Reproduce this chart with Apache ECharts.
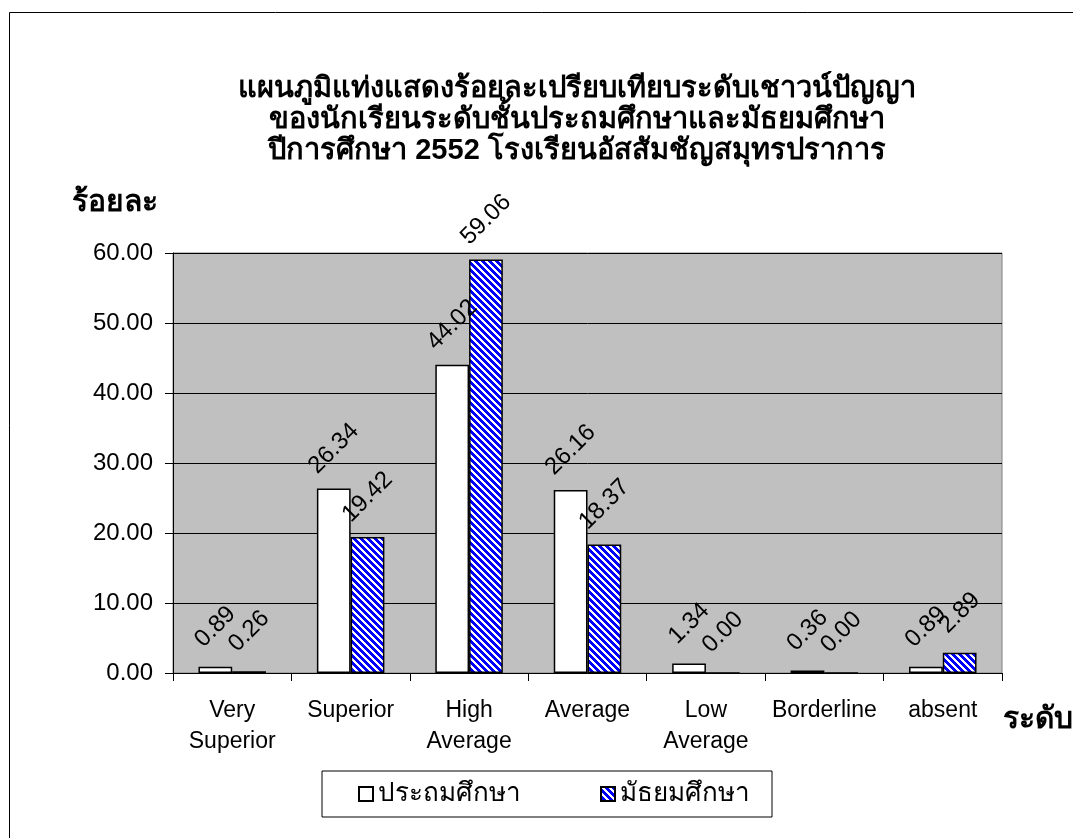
<!DOCTYPE html>
<html>
<head>
<meta charset="utf-8">
<script src="https://cdn.jsdelivr.net/npm/echarts@6/dist/echarts.min.js"></script>
<style>
html,body{margin:0;padding:0;background:#fff;}
#c{width:1073px;height:838px;}
</style>
</head>
<body>
<div id="c"></div>
<script>
const categories = ['Very\nSuperior', 'Superior', 'High\nAverage', 'Average', 'Low\nAverage', 'Borderline', 'absent'];
const primaryValues = [0.89, 26.34, 44.02, 26.16, 1.34, 0.36, 0.89];
const secondaryValues = [0.26, 19.42, 59.06, 18.37, 0.00, 0.00, 2.89];
const seriesNames = ['ประถมศึกษา', 'มัธยมศึกษา'];
const titleText = 'แผนภูมิแท่งแสดงร้อยละเปรียบเทียบระดับเชาวน์ปัญญา\nของนักเรียนระดับชั้นประถมศึกษาและมัธยมศึกษา\nปีการศึกษา 2552 โรงเรียนอัสสัมชัญสมุทรปราการ';
const yAxisName = 'ร้อยละ';
const xAxisName = 'ระดับ';

const FONT = '"Liberation Sans", Arial, sans-serif';

// stripe pattern: blue with white diagonal stripes
function makePattern() {
  const n = 7;
  const cv = document.createElement('canvas');
  cv.width = n; cv.height = n;
  const ctx = cv.getContext('2d');
  const img = ctx.createImageData(n, n);
  for (let y = 0; y < n; y++) {
    for (let x = 0; x < n; x++) {
      const i = (y * n + x) * 4;
      const white = ((x - y + n * 4) % n) < 3;
      img.data[i] = white ? 255 : 0;
      img.data[i + 1] = white ? 255 : 0;
      img.data[i + 2] = 255;
      img.data[i + 3] = 255;
    }
  }
  ctx.putImageData(img, 0, 0);
  return cv;
}
const pattern = { image: makePattern(), repeat: 'repeat' };

const labelCfg = {
  show: true,
  position: 'top',
  distance: 40,
  rotate: 45,
  align: 'center',
  verticalAlign: 'middle',
  fontFamily: FONT,
  fontSize: 24,
  color: '#000',
  formatter: p => p.value.toFixed(2)
};

const chart = echarts.init(document.getElementById('c'), null, { renderer: 'canvas' });
chart.setOption({
  backgroundColor: '#fff',
  animation: false,
  title: {
    text: titleText,
    left: 572,
    textAlign: 'center',
    top: 68,
    textStyle: { fontFamily: FONT, fontWeight: 'bold', fontSize: 29, lineHeight: 31, color: '#000' }
  },
  grid: {
    left: 173, right: 71, top: 253, bottom: 165,
    show: true, backgroundColor: '#C0C0C0', borderColor: '#808080', borderWidth: 1
  },
  legend: {
    left: 322, top: 771,
    itemWidth: 14, itemHeight: 14, itemGap: 79,
    padding: [10, 22, 10, 36],
    borderColor: '#000', borderWidth: 1,
    icon: 'rect',
    textStyle: { fontFamily: FONT, fontSize: 26, color: '#000' },
    data: seriesNames
  },
  xAxis: {
    type: 'category',
    data: categories,
    axisLine: { show: true, lineStyle: { color: '#000', width: 1 } },
    axisTick: { show: true, length: 8, lineStyle: { color: '#000' } },
    axisLabel: { margin: 22, fontFamily: FONT, fontSize: 23, lineHeight: 31, color: '#000', interval: 0 },
    splitLine: { show: false }
  },
  yAxis: {
    type: 'value',
    min: 0, max: 60, interval: 10,
    axisLine: { show: true, lineStyle: { color: '#000', width: 1 } },
    axisTick: { show: true, length: 8, lineStyle: { color: '#000' } },
    axisLabel: { margin: 20, fontFamily: FONT, fontSize: 24, color: '#000', formatter: v => v.toFixed(2) },
    splitLine: { show: true, lineStyle: { color: '#000', width: 1 } }
  },
  graphic: [
    { type: 'rect', shape: { x: 9.5, y: 12.5, width: 1100, height: 900 }, style: { fill: 'none', stroke: '#000', lineWidth: 1 }, silent: true, z: 100 },
    { type: 'text', left: 72, top: 188, style: { text: yAxisName, font: 'bold 30px ' + FONT, fill: '#000' } },
    { type: 'text', left: 1003, top: 705, style: { text: xAxisName, font: 'bold 30px ' + FONT, fill: '#000' } }
  ],
  series: [
    {
      name: seriesNames[0], type: 'bar', data: primaryValues,
      barGap: '0%', barCategoryGap: '43%',
      itemStyle: { color: '#fff', borderColor: '#000', borderWidth: 1.5 },
      label: labelCfg
    },
    {
      name: seriesNames[1], type: 'bar', data: secondaryValues,
      barGap: '0%', barCategoryGap: '43%',
      itemStyle: { color: pattern, borderColor: '#000', borderWidth: 1.5 },
      label: labelCfg
    }
  ]
});
</script>
</body>
</html>
